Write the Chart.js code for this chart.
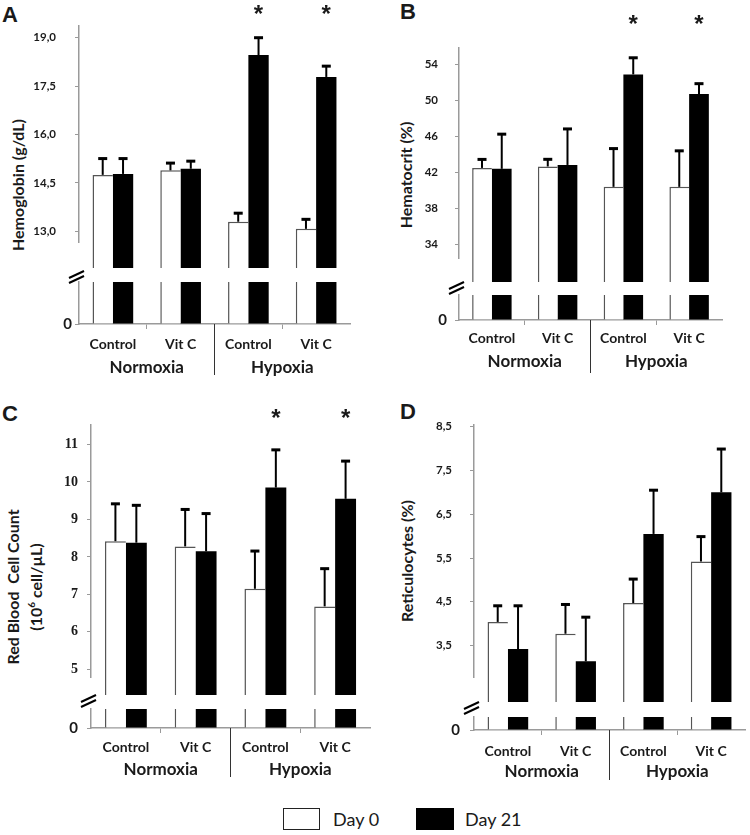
<!DOCTYPE html>
<html>
<head>
<meta charset="utf-8">
<script src="https://cdn.jsdelivr.net/npm/chart.js@4.4.0/dist/chart.umd.min.js"></script>
<style>
  body { margin: 0; background: #fff; width: 750px; height: 835px; position: relative; overflow: hidden; font-family: Lato, sans-serif; color: #1a1a1a; }
  canvas { position: absolute; }
  .letter { position: absolute; font: bold 22px "Liberation Sans", Arial, sans-serif; line-height: 1; }
  .ytitle { position: absolute; font-weight: bold; font-size: 16px; white-space: nowrap; text-align: center; line-height: 19px; transform: translate(-50%, -50%) rotate(-90deg); }
  .box { position: absolute; box-sizing: border-box; }
  .legtxt { position: absolute; font-size: 18px; line-height: 22px; }
</style>
</head>
<body>
<div class="letter" style="left:2px;top:4px">A</div>
<div class="letter" style="left:400px;top:1px">B</div>
<div class="letter" style="left:2px;top:403px">C</div>
<div class="letter" style="left:400px;top:401px">D</div>

<div class="ytitle" style="left:17px;top:185px">Hemoglobin (g/dL)</div>
<div class="ytitle" style="left:405px;top:175px">Hematocrit (%)</div>
<div class="ytitle" style="left:24px;top:587px">Red Blood&nbsp; Cell Count<br>(10<sup style="font-size:10px">6</sup> cell/µL)</div>
<div class="ytitle" style="left:406px;top:561px">Reticulocytes (%)</div>

<div class="box" style="left:283px;top:808px;width:37px;height:22px;border:1.5px solid #222;background:#fff"></div>
<div class="legtxt" style="left:333px;top:808px">Day 0</div>
<div class="box" style="left:416px;top:808px;width:38px;height:22px;background:#000"></div>
<div class="legtxt" style="left:465px;top:808px">Day 21</div>

<script>
// categories and series
const treatments = ["Control", "Vit C", "Control", "Vit C"];
const groups = ["Normoxia", "Hypoxia"];
const dayLabels = ["Day 0", "Day 21"];

// A - Hemoglobin (g/dL)
const hbDay0 = [14.75, 14.89, 13.30, 13.08];
const hbDay0Sd = [0.52, 0.24, 0.28, 0.31];
const hbDay21 = [14.78, 14.94, 18.46, 17.78];
const hbDay21Sd = [0.49, 0.25, 0.55, 0.35];
const hbTicks = [13.0, 14.5, 16.0, 17.5, 19.0];
const hbStars = [false, false, true, true];

// B - Hematocrit (%)
const hctDay0 = [42.5, 42.66, 40.4, 40.4];
const hctDay0Sd = [1.0, 0.85, 4.3, 4.05];
const hctDay21 = [42.4, 42.83, 52.87, 50.7];
const hctDay21Sd = [3.9, 4.05, 1.9, 1.2];
const hctTicks = [34, 38, 42, 46, 50, 54];
const hctStars = [false, false, true, true];

// C - Red blood cell count (10^6 cell/uL)
const rbcDay0 = [8.42, 8.28, 7.15, 6.68];
const rbcDay0Sd = [1.01, 1.0, 1.02, 1.02];
const rbcDay21 = [8.38, 8.15, 9.85, 9.55];
const rbcDay21Sd = [1.01, 1.02, 1.02, 1.02];
const rbcTicks = [5, 6, 7, 8, 9, 10, 11];
const rbcStars = [false, false, true, true];

// D - Reticulocytes (%)
const retDay0 = [4.04, 3.77, 4.47, 5.42];
const retDay0Sd = [0.38, 0.68, 0.56, 0.58];
const retDay21 = [3.42, 3.14, 6.05, 7.0];
const retDay21Sd = [1.0, 1.02, 1.01, 1.0];
const retTicks = [3.5, 4.5, 5.5, 6.5, 7.5, 8.5];
const retStars = [false, false, false, false];

Chart.defaults.font.family = "Lato, sans-serif";
Chart.defaults.color = "#1a1a1a";

const axisGrey = "#9a9a9a";

function fmt(v, dec) {
    return Number(v).toFixed(dec).replace(".", ",");
}

function barSets(d0, sd0, d21, sd21, lower) {
    const clip = lower ? 0 : false;
    return [
        {
            label: dayLabels[0], data: d0, sd: sd0, clip: clip,
            backgroundColor: "#fff", borderColor: "#555",
            borderWidth: { left: 1.5, top: 1.5, right: 0, bottom: 0 },
            categoryPercentage: 0.6, barPercentage: 1.0
        },
        {
            label: dayLabels[1], data: d21, sd: sd21, clip: clip,
            backgroundColor: "#000", borderWidth: 0,
            categoryPercentage: 0.6, barPercentage: 1.0
        }
    ];
}

// error bars (upper part only)
const errorBars = {
    id: "errorBars",
    afterDatasetsDraw(chart) {
        const ctx = chart.ctx;
        const y = chart.scales.y;
        ctx.save();
        ctx.strokeStyle = "#000";
        ctx.fillStyle = "#000";
        ctx.lineWidth = 2;
        chart.data.datasets.forEach((ds, i) => {
            chart.getDatasetMeta(i).data.forEach((bar, j) => {
                const top = y.getPixelForValue(ds.data[j]);
                const end = y.getPixelForValue(ds.data[j] + ds.sd[j]);
                ctx.beginPath();
                ctx.moveTo(bar.x, top);
                ctx.lineTo(bar.x, end);
                ctx.stroke();
                ctx.fillRect(bar.x - 4.5, end - 1, 9, 3);
            });
        });
        ctx.restore();
    }
};

function makeCanvas(left, top, w, h) {
    const c = document.createElement("canvas");
    c.width = w;
    c.height = h;
    c.style.left = left + "px";
    c.style.top = top + "px";
    document.body.appendChild(c);
    return c;
}

function makePanel(p) {
    // partie haute : l'échelle coupée
    const upCanvas = makeCanvas(p.left, p.canvasTop, p.width, p.plotBottom - p.canvasTop);

    const stars = {
        id: "stars",
        afterDraw(chart) {
            if (!p.stars) return;
            const ctx = chart.ctx;
            ctx.save();
            ctx.font = "bold 24px 'Liberation Sans', Arial, sans-serif";
            ctx.textAlign = "center";
            ctx.textBaseline = "alphabetic";
            ctx.fillStyle = "#1a1a1a";
            const meta = chart.getDatasetMeta(1);
            p.stars.forEach((s, j) => {
                if (s) ctx.fillText("*", meta.data[j].x, p.starY - p.canvasTop + 14);
            });
            ctx.restore();
        }
    };

    new Chart(upCanvas, {
        type: "bar",
        data: { labels: treatments, datasets: barSets(p.d0, p.sd0, p.d21, p.sd21, false) },
        options: {
            responsive: false,
            animation: false,
            events: [],
            layout: { padding: { top: p.plotTop - p.canvasTop, right: p.padRight, bottom: 0, left: 0 } },
            plugins: { legend: { display: false }, tooltip: { enabled: false } },
            scales: {
                x: { display: false },
                y: {
                    min: p.yMin, max: p.yMax,
                    afterBuildTicks: (s) => { s.ticks = p.ticks.map((v) => ({ value: v })); },
                    afterFit: (s) => { s.width = p.axisW; },
                    ticks: { font: p.tickFont, padding: p.tickPad, callback: (v) => fmt(v, p.dec) },
                    grid: { drawOnChartArea: false, tickLength: 4, color: axisGrey },
                    border: { color: axisGrey, width: 1.5 }
                }
            }
        },
        plugins: [errorBars, stars]
    });

    // partie basse : le zéro et les catégories
    const axisH = 64;
    const lowTop = p.plotBottom - 4;
    const lowCanvas = makeCanvas(p.left, lowTop, p.width, p.zeroY - lowTop + axisH);

    const decor = {
        id: "decor",
        afterDraw(chart) {
            const ctx = chart.ctx;
            const area = chart.chartArea;
            const x = chart.scales.x;
            ctx.save();
            // marque de coupure
            const by = p.breakY - lowTop;
            ctx.strokeStyle = "#000";
            ctx.lineWidth = 2;
            [-2.5, 2.5].forEach((off) => {
                ctx.beginPath();
                ctx.moveTo(area.left - 10, by + 3.5 + off);
                ctx.lineTo(area.left + 5, by - 3.5 + off);
                ctx.stroke();
            });
            // séparateur Normoxia / Hypoxia
            const sx = (x.getPixelForValue(1) + x.getPixelForValue(2)) / 2;
            ctx.strokeStyle = "#333";
            ctx.lineWidth = 1;
            ctx.beginPath();
            ctx.moveTo(sx, area.bottom);
            ctx.lineTo(sx, area.bottom + p.sepLen);
            ctx.stroke();
            // groupes
            ctx.font = "bold 17px Lato, sans-serif";
            ctx.fillStyle = "#1a1a1a";
            ctx.textAlign = "center";
            ctx.textBaseline = "middle";
            groups.forEach((g, k) => {
                const gx = (x.getPixelForValue(2 * k) + x.getPixelForValue(2 * k + 1)) / 2;
                ctx.fillText(g, gx, area.bottom + p.groupDy);
            });
            ctx.restore();
        }
    };

    new Chart(lowCanvas, {
        type: "bar",
        data: { labels: treatments, datasets: barSets(p.d0, p.sd0, p.d21, p.sd21, true) },
        options: {
            responsive: false,
            animation: false,
            events: [],
            layout: { padding: { top: p.lowerTop - lowTop, right: p.padRight, bottom: 0, left: 0 } },
            plugins: { legend: { display: false }, tooltip: { enabled: false } },
            scales: {
                x: {
                    afterFit: (s) => { s.height = axisH; },
                    ticks: { font: { size: 14, weight: "bold" }, padding: p.labelPad, maxRotation: 0, autoSkip: false },
                    grid: {
                        drawOnChartArea: false, tickLength: 5,
                        color: (c) => (c.index === 1 || c.index === 3) ? axisGrey : "rgba(0,0,0,0)"
                    },
                    border: { color: axisGrey, width: 1.5 }
                },
                y: {
                    min: 0, max: 1,
                    afterBuildTicks: (s) => { s.ticks = [{ value: 0 }]; },
                    afterFit: (s) => { s.width = p.axisW; },
                    ticks: { font: { size: 15, weight: "bold" }, padding: p.zeroPad, callback: () => "0" },
                    grid: { drawOnChartArea: false, tickLength: 4, color: axisGrey },
                    border: { color: axisGrey, width: 1.5 }
                }
            }
        },
        plugins: [decor]
    });
}

const sansTick = { size: 11.5, weight: "bold" };
const serifTick = { family: "'Liberation Serif', 'Times New Roman', serif", size: 14, weight: "bold" };

makePanel({
    d0: hbDay0, sd0: hbDay0Sd, d21: hbDay21, sd21: hbDay21Sd, ticks: hbTicks, dec: 1, stars: hbStars,
    left: 0, width: 362, canvasTop: 0, axisW: 79, padRight: 12,
    plotTop: 25, plotBottom: 268, yMin: 12.67, yMax: 19.36, tickFont: sansTick, tickPad: 19,
    lowerTop: 282, zeroY: 324, zeroPad: 3, labelPad: 7, groupDy: 44, sepLen: 51, starY: 8, breakY: 277
});

makePanel({
    d0: hctDay0, sd0: hctDay0Sd, d21: hctDay21, sd21: hctDay21Sd, ticks: hctTicks, dec: 0, stars: hctStars,
    left: 375, width: 360, canvasTop: 0, axisW: 84, padRight: 13,
    plotTop: 48, plotBottom: 282, yMin: 32.5, yMax: 55.8, tickFont: sansTick, tickPad: 17,
    lowerTop: 292, zeroY: 320, zeroPad: 8, labelPad: 5, groupDy: 42, sepLen: 53, starY: 18, breakY: 288
});

makePanel({
    d0: rbcDay0, sd0: rbcDay0Sd, d21: rbcDay21, sd21: rbcDay21Sd, ticks: rbcTicks, dec: 0, stars: rbcStars,
    left: 0, width: 380, canvasTop: 400, axisW: 91, padRight: 10,
    plotTop: 425, plotBottom: 695, yMin: 4.78, yMax: 11.52, tickFont: serifTick, tickPad: 9,
    lowerTop: 709, zeroY: 728, zeroPad: 9, labelPad: 6, groupDy: 42, sepLen: 49, starY: 412, breakY: 701
});

makePanel({
    d0: retDay0, sd0: retDay0Sd, d21: retDay21, sd21: retDay21Sd, ticks: retTicks, dec: 1, stars: retStars,
    left: 375, width: 375, canvasTop: 400, axisW: 99, padRight: 5,
    plotTop: 405, plotBottom: 702, yMin: 2.78, yMax: 8.54, tickFont: sansTick, tickPad: 18,
    lowerTop: 717, zeroY: 730, zeroPad: 10, labelPad: 8, groupDy: 42, sepLen: 50, starY: null, breakY: 708
});
</script>
</body>
</html>
